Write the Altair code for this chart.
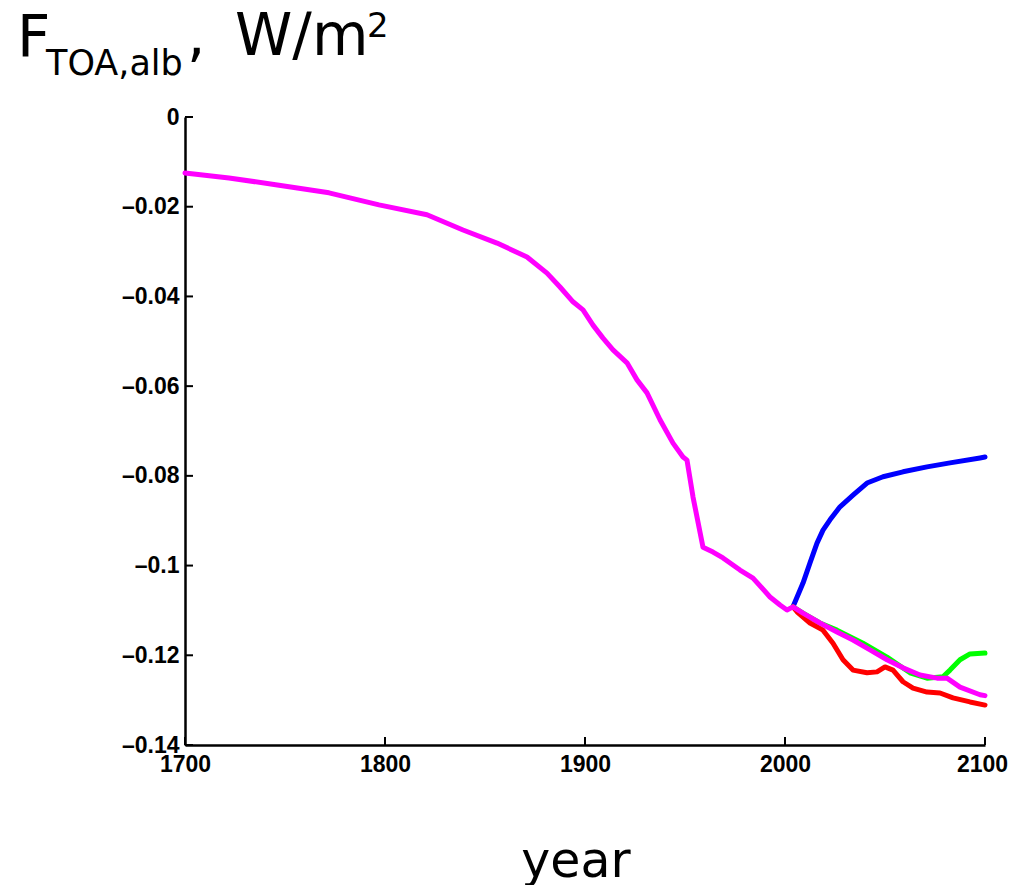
import altair as alt
import pandas as pd

# ---------------- data ----------------
mag_years = [1700, 1722, 1747, 1772, 1797, 1821, 1839, 1856, 1871, 1881, 1887.5, 1894, 1899,
             1904, 1909, 1914, 1921, 1926, 1931, 1937.5, 1944, 1949, 1951, 1954, 1959, 1964,
             1969, 1977.5, 1984, 1992.5, 1997.5, 2001, 2004, 2009, 2017.5, 2026, 2034, 2042.5,
             2051, 2059, 2067.5, 2076, 2081, 2087.5, 2097.5, 2100]
mag_vals = [-0.0125, -0.0136, -0.0152, -0.0169, -0.0196, -0.0218, -0.0252, -0.0281, -0.0312,
            -0.0348, -0.0379, -0.0412, -0.0430, -0.0464, -0.0493, -0.0519, -0.0548, -0.0586,
            -0.0615, -0.0675, -0.0727, -0.0758, -0.0765, -0.0847, -0.0959, -0.0970, -0.0983,
            -0.1010, -0.1028, -0.1070, -0.1088, -0.1099, -0.1092, -0.1106, -0.1128, -0.1148,
            -0.1166, -0.1188, -0.1210, -0.1228, -0.1244, -0.1251, -0.1251, -0.1271, -0.1288,
            -0.1290]

blue_years = [2004, 2009, 2012.5, 2016, 2019, 2022.5, 2027.5, 2034, 2041, 2049, 2059, 2071,
              2082.5, 2097.5, 2100]
blue_vals = [-0.1092, -0.1039, -0.0994, -0.0950, -0.0921, -0.0898, -0.0869, -0.0843, -0.0816,
             -0.0802, -0.0791, -0.0780, -0.0771, -0.0760, -0.0758]

red_years = [2004, 2006, 2012.5, 2019, 2024, 2029, 2034, 2041, 2046, 2050, 2054, 2059, 2064,
             2071, 2077.5, 2084, 2092.5, 2100]
red_vals = [-0.1092, -0.1103, -0.1128, -0.1144, -0.1173, -0.1210, -0.1233, -0.1239, -0.1237,
            -0.1226, -0.1233, -0.1259, -0.1273, -0.1282, -0.1284, -0.1295, -0.1304, -0.1311]

green_years = [2004, 2009, 2017.5, 2026, 2039, 2051, 2062.5, 2071, 2079, 2082.5, 2087.5,
               2092.5, 2100]
green_vals = [-0.1092, -0.1106, -0.1128, -0.1144, -0.1173, -0.1204, -0.1239, -0.1251, -0.1248,
              -0.1233, -0.1210, -0.1197, -0.1195]

x_ticks = [1700, 1800, 1900, 2000, 2100]
y_ticks = [0, -0.02, -0.04, -0.06, -0.08, -0.1, -0.12, -0.14]

W, H = 800, 628
LABEL_FONT = "Liberation Sans"
TITLE_FONT = "DejaVu Sans"

xscale = alt.Scale(domain=[1700, 2100], nice=False, zero=False)
yscale = alt.Scale(domain=[-0.14, 0], nice=False, zero=False)

x_axis = alt.Axis(values=x_ticks, format="d", title=None, ticks=False, grid=False,
                  domainColor="black", domainWidth=2.5, labelFont=LABEL_FONT,
                  labelFontSize=23, labelFontWeight="bold", labelColor="black",
                  labelPadding=8, labelFlush=False, labelOverlap=False,
                  labelOffset={"condition": {"test": "datum.value === 2100", "value": -3},
                               "value": 0})
y_axis = alt.Axis(values=y_ticks, title=None, ticks=False, grid=False,
                  domainColor="black", domainWidth=2.5, labelFont=LABEL_FONT,
                  labelFontSize=23, labelFontWeight="bold", labelColor="black",
                  labelPadding=6, labelFlush=False, labelOverlap=False,
                  labelExpr="datum.value == 0 ? '0' : '\u2013' + format(-datum.value, '.2~f')")


def series(years, vals, color):
    df = pd.DataFrame({"year": years, "v": vals})
    return alt.Chart(df).mark_line(color=color, strokeWidth=5, strokeJoin="round",
                                   strokeCap="round").encode(
        x=alt.X("year:Q", scale=xscale, axis=x_axis),
        y=alt.Y("v:Q", scale=yscale, axis=y_axis),
    )


blue = series(blue_years, blue_vals, "#0000FF")
green = series(green_years, green_vals, "#00FF00")
red = series(red_years, red_vals, "#FF0000")
magenta = series(mag_years, mag_vals, "#FF00FF")

# inward-pointing tick marks (MATLAB style)
ytick_rules = alt.Chart(pd.DataFrame({"v": y_ticks})).mark_rule(
    color="black", strokeWidth=2).encode(
    y=alt.Y("v:Q", scale=yscale, axis=y_axis), x=alt.value(0), x2=alt.value(8))
xtick_rules = alt.Chart(pd.DataFrame({"year": x_ticks})).mark_rule(
    color="black", strokeWidth=2).encode(
    x=alt.X("year:Q", scale=xscale, axis=x_axis), y=alt.value(H), y2=alt.value(H - 8))


def label(txt, x, y, size, align="left"):
    return alt.Chart(pd.DataFrame({"t": [txt]})).mark_text(
        font=TITLE_FONT, fontSize=size, color="black", align=align,
        baseline="alphabetic").encode(text="t:N", x=alt.value(x), y=alt.value(y))


t_F = label("F", -168, -60, 58)
t_sub = label("TOA,alb", -139, -42, 35)
t_rest = label(",", 2, -62, 58)
t_units = label("W/m", 50, -62, 58)
t_sup = label("2", 182, -80, 34)
t_year = label("year", 391, 760, 49, align="center")

chart = alt.layer(
    blue, green, red, magenta, ytick_rules, xtick_rules,
    t_F, t_sub, t_rest, t_units, t_sup, t_year,
).properties(
    width=W, height=H,
    autosize=alt.AutoSizeParams(type="none"),
    padding={"left": 177, "top": 109, "right": 23, "bottom": 140},
).configure(background="white").configure_view(stroke=None)

chart.save("out.html", embed_options={"renderer": "svg", "actions": False})
